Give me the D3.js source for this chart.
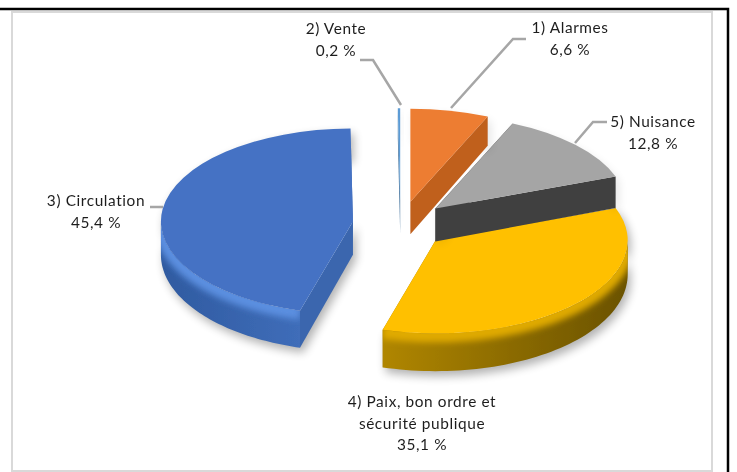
<!DOCTYPE html>
<html>
<head>
<meta charset="utf-8">
<script src="https://cdn.jsdelivr.net/npm/d3@7"></script>
<style>
  html, body { margin: 0; background: #fff; }
  svg { display: block; }
  text { font-family: Lato, "Open Sans", sans-serif; font-size: 15.4px; fill: #1f1f1f; text-anchor: middle; letter-spacing: 0.6px; }
</style>
</head>
<body>
<div id="chart"></div>
<script>
// data, in pie order (clockwise from 12 o'clock)
var names = ["1) Alarmes", "5) Nuisance", "4) Paix, bon ordre et|sécurité publique", "3) Circulation", "2) Vente"];
var values = [6.6, 12.8, 35.1, 45.4, 0.2];

var faceColors = ["#ED7D31", "#A5A5A5", "#FFC000", "#4472C4", "#5B9BD5"];
var wallColors = ["#C0601F", "#404040", "#A27A00", "#3A66AE", "#41719C"];
var rimColors = [["#B85A1C", "#B85A1C"], ["#666", "#666"], ["#6A5200", "#B08600"], ["#3F6DB9", "#2F5AA0"], ["#41719C", "#41719C"]];
var bevelColors = ["#F08A45", "#B5B5B5", "#E0AA00", "#5B8FE0", "#5B9BD5"];

// label layout: centre x, first baseline, leader line points
var labelX = [570, 653, 422, 96, 336];
var labelY = [33, 127, 407, 206, 34];
var leaders = [
  [[526, 39], [513, 39], [451, 108]],
  [[607, 122], [593, 122], [575, 143]],
  [],
  [[150, 207], [163, 207]],
  [[360, 60], [373, 60], [401, 105]]
];

var W = 737, H = 472;
var cx = 400.5, cy = 224.5, rx = 192, ry = 93, explode = 48;
var yRatio = ry / rx;

var svg = d3.select("#chart").append("svg").attr("width", W).attr("height", H);
var defs = svg.append("defs");

var soft = defs.append("filter").attr("id", "soft").attr("x", "-10%").attr("y", "-10%").attr("width", "120%").attr("height", "120%");
soft.append("feGaussianBlur").attr("stdDeviation", 0.6);

var shadow = defs.append("filter").attr("id", "shadow").attr("x", "-20%").attr("y", "-20%").attr("width", "140%").attr("height", "140%");
shadow.append("feGaussianBlur").attr("stdDeviation", 5);

var glow = defs.append("filter").attr("id", "glow").attr("x", "-20%").attr("y", "-20%").attr("width", "140%").attr("height", "140%");
glow.append("feGaussianBlur").attr("stdDeviation", 3);

var root = svg.append("g").attr("filter", "url(#soft)");

// frame
root.append("rect").attr("x", 12).attr("y", 12).attr("width", 700).attr("height", 459)
  .attr("fill", "#fff").attr("stroke", "#D9D9D9").attr("stroke-width", 2);
root.append("path").attr("d", d3.line()([[0, 9], [728, 9], [728, H]]))
  .attr("fill", "none").attr("stroke", "#000").attr("stroke-width", 2.5);

var pie = d3.pie().sort(null).value(function (d) { return d; });
var arcs = pie(values);

function pt(a, r, c) {
  return [c[0] + r * Math.sin(a), c[1] - r * yRatio * Math.cos(a)];
}
// perspective: the front of the pie looks a bit thicker than the back
function down(p) { return [p[0], p[1] + 31.5 + 0.04 * (p[1] - 175)]; }

var slices = arcs.map(function (d, i) {
  var mid = (d.startAngle + d.endAngle) / 2;
  return { i: i, d: d, c: pt(mid, explode, [cx, cy]) };
});

// rim only shows on the lower half of the ellipse
function rimPoints(s) {
  var a0 = Math.max(s.d.startAngle, Math.PI / 2);
  var a1 = Math.min(s.d.endAngle, 3 * Math.PI / 2);
  if (a1 <= a0) return null;
  return d3.range(0, 61).map(function (k) {
    return pt(a0 + (a1 - a0) * k / 60, rx, s.c);
  });
}
function silhouette(s) {
  var top = d3.range(0, 61).map(function (k) {
    return pt(s.d.startAngle + (s.d.endAngle - s.d.startAngle) * k / 60, rx, s.c);
  });
  return [s.c].concat(top);
}

var line = d3.line();
var arcGen = d3.arc().innerRadius(0).outerRadius(rx);

// draw back to front
var order = [3, 4, 2, 1, 0];
order.forEach(function (i) {
  var s = slices[i];
  var g = root.append("g");

  // soft shadow, only the two big slices throw a strong one
  var sil = silhouette(s);
  var shadowPts = sil.concat(sil.slice().reverse().map(down));
  g.append("path").attr("d", line(shadowPts) + "Z")
    .attr("fill", "#000").attr("opacity", i === 2 || i === 3 ? 0.3 : 0.1)
    .attr("transform", "translate(3,5)").attr("filter", "url(#shadow)");

  var pStart = pt(s.d.startAngle, rx, s.c), pEnd = pt(s.d.endAngle, rx, s.c);
  [pStart, pEnd].forEach(function (p) {
    g.append("path").attr("d", line([s.c, p, down(p), down(s.c)]) + "Z")
      .attr("fill", wallColors[i]);
  });

  var rim = rimPoints(s);
  if (rim) {
    var gid = "rim" + i;
    var grad = defs.append("linearGradient").attr("id", gid);
    grad.append("stop").attr("offset", 0).attr("stop-color", rimColors[i][1]);
    grad.append("stop").attr("offset", 1).attr("stop-color", rimColors[i][0]);
    var cid = "clip" + i;
    var rimD = line(rim.concat(rim.slice().reverse().map(down))) + "Z";
    defs.append("clipPath").attr("id", cid).append("path").attr("d", rimD);
    g.append("path").attr("d", rimD).attr("fill", "url(#" + gid + ")");
    g.append("g").attr("clip-path", "url(#" + cid + ")").append("path")
      .attr("d", line(rim.map(function (p) { return [p[0], p[1] + 2]; })))
      .attr("fill", "none").attr("stroke", bevelColors[i]).attr("stroke-width", 14)
      .attr("filter", "url(#glow)");
  }

  g.append("path").attr("d", arcGen(s.d))
    .attr("transform", "translate(" + s.c[0] + "," + s.c[1] + ") scale(1," + yRatio + ")")
    .attr("fill", faceColors[i]);
});

// leaders and labels
leaders.forEach(function (pts) {
  if (pts.length) {
    root.append("path").attr("d", line(pts)).attr("fill", "none")
      .attr("stroke", "#A6A6A6").attr("stroke-width", 2.5);
  }
});

names.forEach(function (name, i) {
  var lines = name.split("|").concat(String(values[i]).replace(".", ",") + " %");
  var t = root.append("text").attr("x", labelX[i]).attr("y", labelY[i]);
  lines.forEach(function (l, k) {
    t.append("tspan").attr("x", labelX[i]).attr("dy", k ? 21.7 : 0).text(l);
  });
});
</script>
</body>
</html>
